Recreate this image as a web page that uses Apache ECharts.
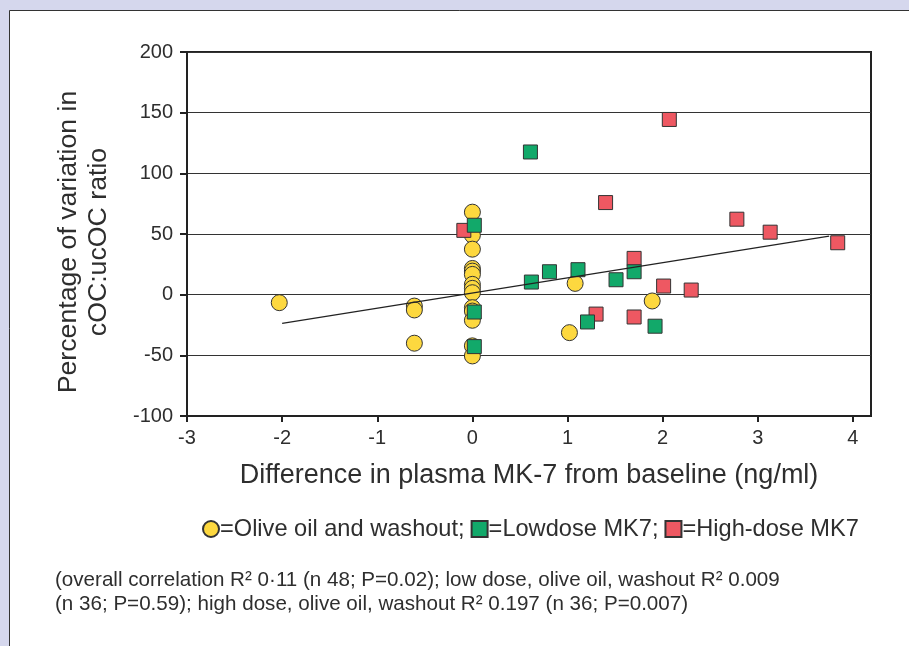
<!DOCTYPE html>
<html>
<head>
<meta charset="utf-8">
<script src="https://cdn.jsdelivr.net/npm/echarts@6/dist/echarts.min.js"></script>
<style>
  html, body { margin: 0; padding: 0; background: #d5d7ed; }
  #chart { width: 909px; height: 646px; }
</style>
</head>
<body>
<div id="chart"></div>
<script>
// olive oil and washout (circles)
const oliveX = [-2.03, -0.61, -0.61, -0.61, 0, 0, 0, 0, 0, 0, 0, 0, 0, 0, 0, 0, 0, 0, 1.08, 1.89, 1.02]
const oliveY = [-6.6, -9.4, -12.6, -40, 68, 49, 37.5, 21.6, 19.4, 16.7, 8.5, 5.2, 1.6, -10.7, -13.5, -21.1, -42.2, -50.5, 9.3, -5.2, -31.3]
// low dose MK7 (green squares)
const lowX = [0.02, 0.02, 0.02, 0.61, 0.62, 0.81, 1.11, 1.51, 1.70, 1.21, 1.92]
const lowY = [57.2, -14.3, -42.8, 117.6, 10.4, 18.9, 20.6, 12.3, 18.9, -22.5, -26]
// high dose MK7 (red squares)
const highX = [-0.09, 1.40, 2.07, 2.78, 3.13, 3.84, 1.70, 2.01, 2.30, 1.30, 1.70]
const highY = [53, 75.9, 144.4, 62.2, 51.5, 42.8, 29.9, 7.1, 3.8, -16, -18.4]
// regression line end points
const fitX = [-2, 3.75]
const fitY = [-23.6, 48.2]
// x tick labels
const xTicks = [-3, -2, -1, 0, 1, 2, 3, 4]

const seriesNames = ['Olive oil and washout', 'Lowdose MK7', 'High-dose MK7']
const caption = [
  '(overall correlation R² 0·11 (n 48; P=0.02); low dose, olive oil, washout R² 0.009',
  '(n 36; P=0.59); high dose, olive oil, washout R² 0.197 (n 36; P=0.007)'
]

const pairs = (xs, ys) => xs.map((x, i) => [x, ys[i]])

const font = 'Liberation Sans, Arial, sans-serif'
const txt = '#2e2e2e'

const chart = echarts.init(document.getElementById('chart'))
const opt = {
  backgroundColor: '#d5d7ed',
  animation: false,
  textStyle: { fontFamily: font, color: txt },
  graphic: [
    {
      type: 'rect',
      z: -10,
      shape: { x: 9.5, y: 10.5, width: 920, height: 660 },
      style: { fill: '#fff', stroke: '#333', lineWidth: 1 }
    },
    {
      type: 'text',
      left: 55,
      top: 568,
      style: {
        text: caption.join('\n'),
        font: '20.6px ' + font,
        fill: txt,
        lineHeight: 24
      }
    }
  ],
  grid: {
    left: 187,
    right: 38,
    top: 52,
    bottom: 230,
    show: true,
    borderColor: '#222',
    borderWidth: 2,
    backgroundColor: 'transparent'
  },
  legend: {
    data: [
      { name: seriesNames[0], icon: 'circle' },
      { name: seriesNames[1], icon: 'rect' },
      { name: seriesNames[2], icon: 'rect' }
    ],
    left: 197,
    top: 512,
    itemWidth: 16,
    itemHeight: 16,
    itemGap: 6,
    formatter: n => '=' + n + (n === seriesNames[2] ? '' : ';'),
    textStyle: { fontSize: 23.6, color: txt, fontFamily: font, padding: [0, 0, 0, -4] }
  },
  xAxis: {
    type: 'value',
    min: -3,
    max: 4.19,
    interval: 1,
    name: 'Difference in plasma MK-7 from baseline (ng/ml)',
    nameLocation: 'middle',
    nameGap: 46,
    nameTextStyle: { fontSize: 27, color: txt, fontFamily: font },
    axisLine: { show: true, onZero: false, lineStyle: { color: '#222', width: 2 } },
    axisTick: { show: true, length: 6, customValues: xTicks, lineStyle: { color: '#222', width: 2 } },
    axisLabel: { fontSize: 20, color: txt, margin: 12, customValues: xTicks },
    splitLine: { show: false }
  },
  yAxis: {
    type: 'value',
    min: -100,
    max: 200,
    interval: 50,
    name: 'Percentage of variation in\ncOC:ucOC ratio',
    nameLocation: 'middle',
    nameGap: 73,
    nameTextStyle: { fontSize: 26.7, color: txt, fontFamily: font, lineHeight: 30, padding: [0, 16, 0, 0] },
    axisLine: { show: true, onZero: false, lineStyle: { color: '#222', width: 2 } },
    axisTick: { show: true, length: 7, lineStyle: { color: '#222', width: 2 } },
    axisLabel: { fontSize: 20, color: txt, margin: 14 },
    splitLine: { show: true, lineStyle: { color: '#333', width: 1 } }
  },
  series: [
    {
      name: seriesNames[0],
      type: 'scatter',
      symbol: 'circle',
      symbolSize: 16,
      itemStyle: { color: '#fdd83f', borderColor: '#333', borderWidth: 1, opacity: 1 },
      data: pairs(oliveX, oliveY)
    },
    {
      name: seriesNames[2],
      type: 'scatter',
      symbol: 'rect',
      symbolSize: 14,
      itemStyle: { color: '#ee5862', borderColor: '#333', borderWidth: 1, opacity: 1 },
      data: pairs(highX, highY)
    },
    {
      name: seriesNames[1],
      type: 'scatter',
      symbol: 'rect',
      symbolSize: 14,
      itemStyle: { color: '#12a96a', borderColor: '#333', borderWidth: 1, opacity: 1 },
      data: pairs(lowX, lowY)
    },
    {
      name: 'fit',
      type: 'line',
      symbol: 'none',
      silent: true,
      lineStyle: { color: '#222', width: 1.2 },
      data: pairs(fitX, fitY)
    }
  ]
}
chart.setOption(opt)
</script>
</body>
</html>
